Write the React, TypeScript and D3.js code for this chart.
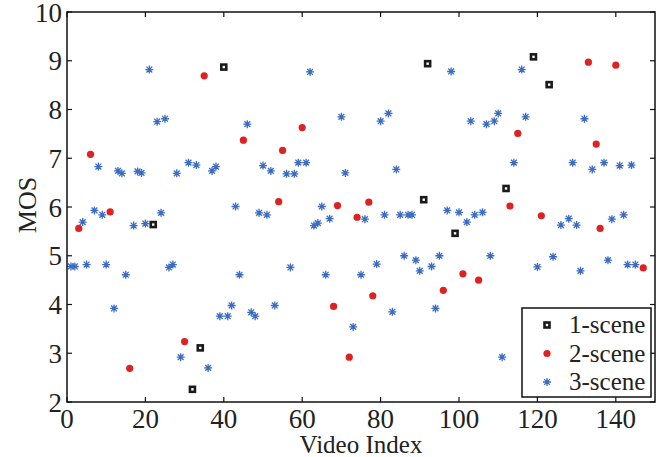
import React from "react";
import * as d3 from "d3";

// [video index, MOS]
const oneScene = [
  [22, 5.64], [32, 2.26], [34, 3.11], [40, 8.87], [91, 6.15],
  [92, 8.94], [99, 5.46], [112, 6.38], [119, 9.08], [123, 8.51],
];

const twoScene = [
  [3, 5.56], [6, 7.08], [11, 5.9], [16, 2.69], [30, 3.24], [35, 8.69],
  [45, 7.37], [54, 6.11], [55, 7.16], [60, 7.63], [68, 3.96], [69, 6.03],
  [72, 2.92], [74, 5.79], [77, 6.1], [78, 4.18], [96, 4.29], [101, 4.63],
  [105, 4.5], [113, 6.02], [115, 7.51], [121, 5.82], [133, 8.97],
  [135, 7.29], [136, 5.56], [140, 8.91], [147, 4.75],
];

const threeScene = [
  [1, 4.78], [2, 4.78], [4, 5.69], [5, 4.82], [7, 5.93], [8, 6.83],
  [9, 5.84], [10, 4.82], [12, 3.92], [13, 6.74], [14, 6.69], [15, 4.61],
  [17, 5.62], [18, 6.73], [19, 6.7], [20, 5.66], [21, 8.82], [23, 7.75],
  [24, 5.88], [25, 7.81], [26, 4.76], [27, 4.82], [28, 6.69], [29, 2.92],
  [31, 6.91], [33, 6.86], [36, 2.7], [37, 6.74], [38, 6.83], [39, 3.76],
  [41, 3.76], [42, 3.98], [43, 6.01], [44, 4.61], [46, 7.7], [47, 3.84],
  [48, 3.76], [49, 5.88], [50, 6.85], [51, 5.84], [52, 6.74], [53, 3.98],
  [56, 6.68], [57, 4.76], [58, 6.68], [59, 6.91], [61, 6.91], [62, 8.77],
  [63, 5.62], [64, 5.67], [65, 6.01], [66, 4.61], [67, 5.76], [70, 7.85],
  [71, 6.7], [73, 3.54], [75, 4.61], [76, 5.75], [79, 4.83], [80, 7.76],
  [81, 5.84], [82, 7.92], [83, 3.85], [84, 6.77], [85, 5.84], [86, 5.0],
  [87, 5.84], [88, 5.84], [89, 4.91], [90, 4.69], [93, 4.78], [94, 3.92],
  [95, 5.0], [97, 5.93], [98, 8.78], [100, 5.89], [102, 5.69], [103, 7.76],
  [104, 5.84], [106, 5.89], [107, 7.7], [108, 5.0], [109, 7.76], [110, 7.92],
  [111, 2.92], [114, 6.91], [116, 8.82], [117, 7.85], [120, 4.77],
  [124, 4.98], [126, 5.63], [128, 5.76], [129, 6.91], [130, 5.63],
  [131, 4.69], [132, 7.81], [134, 6.77], [137, 6.91], [138, 4.91],
  [139, 5.75], [141, 6.85], [142, 5.84], [143, 4.82], [144, 6.86],
  [145, 4.82],
];

const xTicks = [0, 20, 40, 60, 80, 100, 120, 140];
const yTicks = [2, 3, 4, 5, 6, 7, 8, 9, 10];
const legendNames = ["1-scene", "2-scene", "3-scene"];

const RED = "#de2121";
const BLUE = "#3b6cc4";
const INK = "#222";
const FONT = { fontFamily: '"Liberation Serif"' };

const W = 661, H = 457;
const margin = { top: 12, right: 6, bottom: 55, left: 67 };
const w = W - margin.left - margin.right;
const h = H - margin.top - margin.bottom;

const x = d3.scaleLinear().domain([0, 150]).range([0, w]);
const y = d3.scaleLinear().domain([2, 10]).range([h, 0]);

function Square({ cx, cy }) {
  return <rect x={cx - 2.5} y={cy - 2.5} width={5} height={5}
    fill="#fff" stroke="#1a1a1a" strokeWidth={2.6} />;
}
function Dot({ cx, cy }) {
  return <circle cx={cx} cy={cy} r={3.6} fill={RED} />;
}
function Star({ cx, cy }) {
  const r = 4, d = 2.9;
  const p = `M${cx - r},${cy}H${cx + r}M${cx},${cy - r}V${cy + r}` +
    `M${cx - d},${cy - d}L${cx + d},${cy + d}M${cx - d},${cy + d}L${cx + d},${cy - d}`;
  return <path d={p} stroke={BLUE} strokeWidth={1.3} fill="none" />;
}

const markers = [Square, Dot, Star];
const tl = 5;

export default function App() {
  return (
    <svg width={W} height={H} style={{ position: "absolute", left: 0, top: 0, background: "#fff" }}>
      <g transform={`translate(${margin.left},${margin.top})`}>
        {threeScene.map((d, i) => <Star key={"s" + i} cx={x(d[0])} cy={y(d[1])} />)}
        {twoScene.map((d, i) => <Dot key={"d" + i} cx={x(d[0])} cy={y(d[1])} />)}
        {oneScene.map((d, i) => <Square key={"q" + i} cx={x(d[0])} cy={y(d[1])} />)}

        {/* MATLAB style box, ticks inside on all four sides */}
        <g stroke="#111" strokeWidth={1.2}>
          {xTicks.map(t => (
            <g key={"xt" + t}>
              <line x1={x(t)} x2={x(t)} y1={h} y2={h - tl} />
              <line x1={x(t)} x2={x(t)} y1={0} y2={tl} />
            </g>
          ))}
          {yTicks.map(t => (
            <g key={"yt" + t}>
              <line y1={y(t)} y2={y(t)} x1={0} x2={tl} />
              <line y1={y(t)} y2={y(t)} x1={w} x2={w - tl} />
            </g>
          ))}
        </g>
        <rect width={w} height={h} fill="none" stroke="#111" strokeWidth={1.5} />

        {xTicks.map(t => (
          <text key={"xl" + t} x={x(t)} y={h + 26} textAnchor="middle"
            fontSize={27} fill={INK} style={FONT}>{t}</text>
        ))}
        {yTicks.map(t => (
          <text key={"yl" + t} x={-5} y={y(t) + 9.5} textAnchor="end"
            fontSize={27} fill={INK} style={FONT}>{t}</text>
        ))}

        <text x={w / 2} y={h + 51} textAnchor="middle" fontSize={25} fill={INK} style={FONT}>
          Video Index
        </text>
        <text transform={`translate(-31,${h / 2 - 2}) rotate(-90)`} textAnchor="middle"
          fontSize={26} fill={INK} style={FONT}>MOS</text>
      </g>

      <g transform="translate(522,308)">
        <rect width={129} height={89} fill="#fff" stroke="#111" strokeWidth={1.5} />
        {legendNames.map((name, i) => {
          const cy = 17 + i * 28.5;
          const M = markers[i];
          return (
            <g key={name}>
              <M cx={25} cy={cy} />
              <text x={47} y={cy + 8} fontSize={25} fill={INK} style={FONT}>{name}</text>
            </g>
          );
        })}
      </g>
    </svg>
  );
}
